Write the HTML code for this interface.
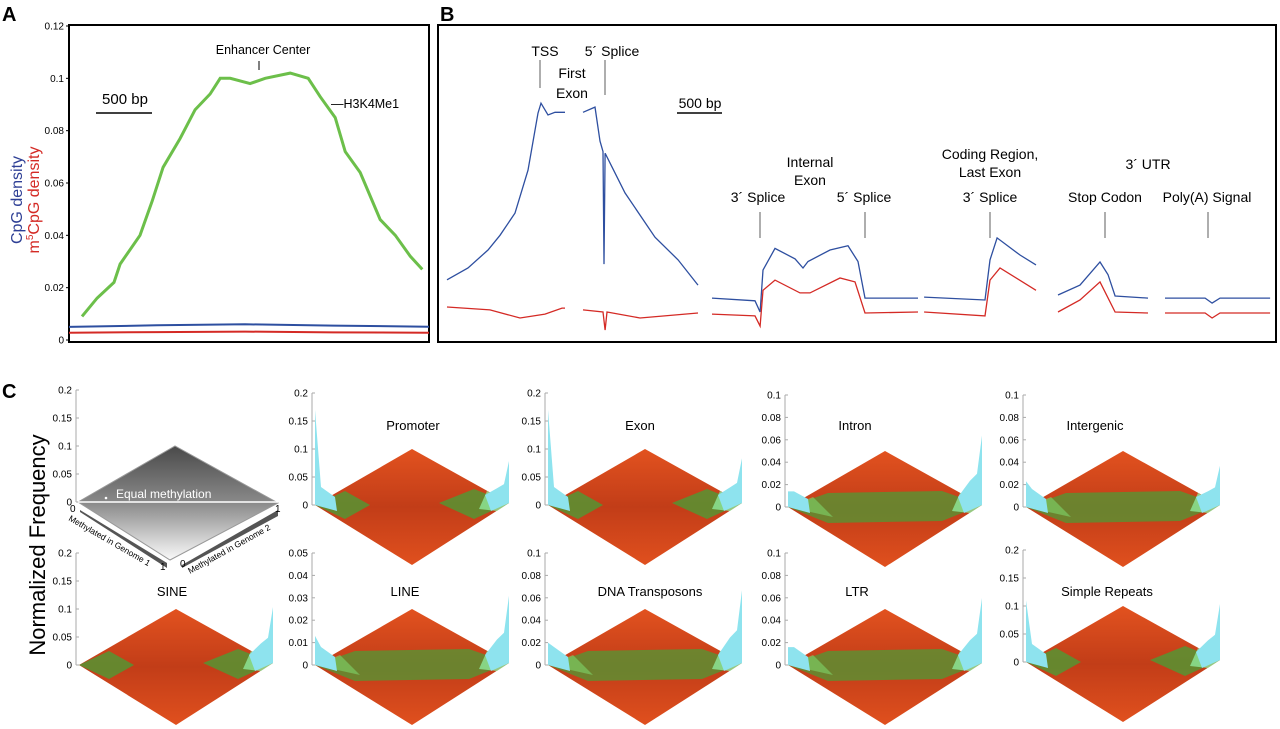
<!DOCTYPE html>
<html><head><meta charset="utf-8"><style>
html,body{margin:0;padding:0;background:#fff}
svg{display:block;font-family:"Liberation Sans",sans-serif}
</style></head><body>
<svg id="fig" width="1280" height="729" viewBox="0 0 1280 729">
<defs>
<linearGradient id="gray" x1="0" y1="0" x2="0" y2="1"><stop offset="0" stop-color="#4a4a4a"/><stop offset="0.5" stop-color="#8a8a8a"/><stop offset="1" stop-color="#fafafa"/></linearGradient>
<linearGradient id="org" x1="0" y1="0" x2="0" y2="1"><stop offset="0" stop-color="#e2521f"/><stop offset="0.5" stop-color="#c23d18"/><stop offset="1" stop-color="#e0501e"/></linearGradient>
</defs>
<g id="A"></g>
<g id="B"></g>
<g id="C"></g>
</svg>
<script>
// ---------- Panel A data ----------
const aTicks=[0,0.02,0.04,0.06,0.08,0.1,0.12];
const aTickLabels=["0","0.02","0.04","0.06","0.08","0.1","0.12"];
const aGreenX=[118,255,409,464,645,755,855,1009,1145,1282,1373,1464,1645,1782,2009,2173,2282,2418,2509,2645,2827,2964,3100,3209];
const aGreenY=[0.009,0.016,0.022,0.029,0.040,0.053,0.066,0.077,0.088,0.094,0.100,0.100,0.098,0.100,0.102,0.100,0.093,0.085,0.072,0.064,0.046,0.040,0.032,0.027];
const aBlueX=[0,800,1600,2400,3270];
const aBlueY=[0.0050,0.0056,0.0060,0.0055,0.0051];
const aRedX=[0,800,1600,2400,3270];
const aRedY=[0.0028,0.0030,0.0032,0.0029,0.0028];
// ---------- Panel B data (x in bp, y in density) ----------
const bBlueSegX=[
 [100,333,556,689,855,1000,1111,1144,1222,1300,1411],
 [1611,1744,1800,1833,1844,1856,2078,2411,2667,2889],
 [3044,3522,3578,3611,3744,3967,4055,4111,4355,4555,4666,4744,5333],
 [5400,6077,6133,6211,6466,6644],
 [6888,7133,7355,7444,7522,7888],
 [8077,8522,8600,8688,9244]];
const bBlueSegY=[
 [0.023,0.0275,0.0344,0.040,0.0485,0.0649,0.0867,0.0905,0.086,0.087,0.087],
 [0.087,0.089,0.076,0.072,0.029,0.0714,0.0562,0.0393,0.0306,0.021],
 [0.016,0.015,0.0107,0.0267,0.035,0.031,0.0275,0.030,0.0344,0.036,0.030,0.016,0.016],
 [0.0164,0.0153,0.0306,0.039,0.0325,0.0287],
 [0.0172,0.021,0.0298,0.025,0.0168,0.016],
 [0.016,0.016,0.0141,0.016,0.016]];
const bRedSegX=[
 [100,578,911,1189,1378,1411],
 [1611,1833,1856,1878,2244,2889],
 [3044,3522,3578,3611,3744,4022,4133,4466,4633,4744,5333],
 [5400,6077,6133,6244,6644],
 [6888,7133,7355,7522,7888],
 [8077,8522,8600,8688,9244]];
const bRedSegY=[
 [0.0126,0.0115,0.0084,0.0099,0.0122,0.0122],
 [0.0115,0.0107,0.0038,0.0107,0.0084,0.0103],
 [0.0099,0.0092,0.0053,0.019,0.0229,0.018,0.018,0.0237,0.0222,0.0103,0.0107],
 [0.0107,0.0092,0.0229,0.0275,0.019],
 [0.0107,0.0153,0.0222,0.0107,0.0103],
 [0.0103,0.0103,0.0084,0.0103,0.0103]];
// ---------- Panel C data ----------
const cNames=["Promoter","Exon","Intron","Intergenic","SINE","LINE","DNA Transposons","LTR","Simple Repeats"];
const cMax=[0.2,0.2,0.1,0.1,0.2,0.05,0.1,0.1,0.2];
const cTickLabels=[
 ["0","0.05","0.1","0.15","0.2"],["0","0.05","0.1","0.15","0.2"],
 ["0","0.02","0.04","0.06","0.08","0.1"],["0","0.02","0.04","0.06","0.08","0.1"],
 ["0","0.05","0.1","0.15","0.2"],["0","0.01","0.02","0.03","0.04","0.05"],
 ["0","0.02","0.04","0.06","0.08","0.1"],["0","0.02","0.04","0.06","0.08","0.1"],
 ["0","0.05","0.1","0.15","0.2"]];
const cLeftPeak=[0.17,0.17,0.014,0.023,0.0,0.013,0.02,0.016,0.11];
const cRightPeak=[0.075,0.08,0.062,0.035,0.1,0.03,0.065,0.058,0.1];
const cGreenBand=[0,0,1,1,0,1,1,1,0];

const NS="http://www.w3.org/2000/svg";
function el(tag,attrs,parent,txt){const e=document.createElementNS(NS,tag);for(const k in attrs)e.setAttribute(k,attrs[k]);if(txt!==undefined)e.textContent=txt;parent.appendChild(e);return e;}
function path(xs,ys,sx,sy){return xs.map((x,i)=>(i?'L':'M')+sx(x).toFixed(1)+','+sy(ys[i]).toFixed(1)).join('');}

// ===== Panel A =====
const A=document.getElementById('A');
const ax0=69,ax1=429,ay0=340,ayTop=26;
const axS=v=>ax0+v/3270*(ax1-ax0);
const ayS=v=>ay0-v/0.12*(ay0-ayTop);
let t=el('text',{x:2,y:21,'font-size':20,'font-weight':'bold'},A,'A');

let r=el('rect',{x:ax0,y:25,width:ax1-ax0,height:317,fill:'none',stroke:'#000','stroke-width':2},A);

aTicks.forEach((v,i)=>{
 const l=el('line',{x1:ax0-3,x2:ax0,y1:ayS(v),y2:ayS(v),stroke:'#000'},A);
 
 const tx=el('text',{x:ax0-5,y:ayS(v)+3.5,'font-size':10,'text-anchor':'end'},A,aTickLabels[i]);
 
});
let g=el('g',{transform:'translate(22,200) rotate(-90)'},A);

el('text',{x:0,y:0,'font-size':16,fill:'#2e3f95','text-anchor':'middle'},g,'CpG density');
let rt=el('text',{x:0,y:17,'font-size':16,fill:'#d42a25','text-anchor':'middle'},g);
rt.innerHTML='m<tspan font-size="10" dy="-6">5</tspan><tspan dy="6">CpG density</tspan>';
let p=el('path',{d:path(aGreenX,aGreenY,axS,ayS),fill:'none',stroke:'#6cbf4a','stroke-width':3},A);

p=el('path',{d:path(aBlueX,aBlueY,axS,ayS),fill:'none',stroke:'#2e4fa0','stroke-width':2},A);

p=el('path',{d:path(aRedX,aRedY,axS,ayS),fill:'none',stroke:'#d42a25','stroke-width':2},A);

t=el('text',{x:263,y:54,'font-size':12.5,'text-anchor':'middle'},A,'Enhancer Center');

el('line',{x1:259,x2:259,y1:61,y2:70,stroke:'#000'},A);
t=el('text',{x:125,y:104,'font-size':15,'text-anchor':'middle'},A,'500 bp');

el('line',{x1:96,x2:152,y1:113,y2:113,stroke:'#000','stroke-width':1.5},A);
t=el('text',{x:331,y:108,'font-size':12.5},A,'—H3K4Me1');


// ===== Panel B =====
const B=document.getElementById('B');
const bx0=438,bx1=1276;
const bxS=v=>bx0+v/9310*(bx1-bx0);
const byS=v=>340-v/0.12*314;
t=el('text',{x:440,y:21,'font-size':20,'font-weight':'bold'},B,'B');

r=el('rect',{x:bx0,y:25,width:bx1-bx0,height:317,fill:'none',stroke:'#000','stroke-width':2},B);

bBlueSegX.forEach((xs,i)=>{
 const q=el('path',{d:path(xs,bBlueSegY[i],bxS,byS),fill:'none',stroke:'#2e4fa0','stroke-width':1.3},B);
 
});
bRedSegX.forEach((xs,i)=>{
 const q=el('path',{d:path(xs,bRedSegY[i],bxS,byS),fill:'none',stroke:'#d42a25','stroke-width':1.3},B);
 
});
const bLabels=[["TSS",545,56],["5´ Splice",612,56],["First",572,78],["Exon",572,98],["500 bp",700,108],
 ["Internal",810,167],["Exon",810,185],["3´ Splice",758,202],["5´ Splice",864,202],
 ["Coding Region,",990,159],["Last Exon",990,177],["3´ UTR",1148,169],["3´ Splice",990,202],["Stop Codon",1105,202],["Poly(A) Signal",1207,202]];
bLabels.forEach(d=>{
 const q=el('text',{x:d[1],y:d[2],'font-size':14,'text-anchor':'middle'},B,d[0]);
 
});
[[540,60,88],[605,60,95],[760,212,238],[865,212,238],[990,212,238],[1105,212,238],[1208,212,238]].forEach(d=>{
 el('line',{x1:d[0],x2:d[0],y1:d[1],y2:d[2],stroke:'#777','stroke-width':1.2},B);
});
el('line',{x1:677,x2:722,y1:113,y2:113,stroke:'#000','stroke-width':1.5},B);

// ===== Panel C =====
const C=document.getElementById('C');
t=el('text',{x:2,y:398,'font-size':20,'font-weight':'bold'},C,'C');

t=el('text',{x:0,y:0,'font-size':22,'text-anchor':'middle',transform:'translate(45,545) rotate(-90)'},C,'Normalized Frequency');


function axis(parent,ax,y0,labels){
 el('line',{x1:ax,x2:ax,y1:y0,y2:y0-112,stroke:'#aaa'},parent);
 const n=labels.length-1;
 labels.forEach((lb,i)=>{
  const y=y0-112*i/n;
  el('line',{x1:ax,x2:ax+3,y1:y,y2:y,stroke:'#aaa'},parent);
  const q=el('text',{x:ax-4,y:y+3.5,'font-size':10,'text-anchor':'end'},parent,lb);
  
 });
}
// legend panel
const Lg=el('g',{},C);

axis(Lg,76,502,["0","0.05","0.1","0.15","0.2"]);
el('polygon',{points:'78,502 175,446 278,503 170,560',fill:'url(#gray)',stroke:'#999'},Lg);
el('line',{x1:78,x2:278,y1:502,y2:502,stroke:'#fff','stroke-width':1.5},Lg);
t=el('text',{x:116,y:498,'font-size':12,fill:'#fff'},Lg,'Equal methylation');

el('circle',{cx:106,cy:498,r:1.3,fill:'#fff'},Lg);
el('polygon',{points:'80,510 167,563 167,568 80,512',fill:'#555'},Lg);
el('polygon',{points:'182,565 278,510 278,516 182,568',fill:'#555'},Lg);
el('text',{x:0,y:0,'font-size':8.5,transform:'translate(68,520) rotate(30)'},Lg,'Methylated in Genome 1');
el('text',{x:0,y:0,'font-size':8.5,transform:'translate(190,574) rotate(-29)'},Lg,'Methylated in Genome 2');
el('text',{x:70,y:512,'font-size':10},Lg,'0');
el('text',{x:160,y:570,'font-size':10},Lg,'1');
el('text',{x:180,y:567,'font-size':10},Lg,'0');
el('text',{x:275,y:512,'font-size':10},Lg,'1');

const cAx=[312,545,785,1023,76,312,545,785,1023];
const cY0=[505,505,507,507,665,665,665,665,662];
cNames.forEach((nm,i)=>{
 const G=el('g',{},C);
 
 
 const ax=cAx[i],y0=cY0[i];
 axis(G,ax,y0,cTickLabels[i]);
 const L=[ax+3,y0],T=[ax+100,y0-56],R=[ax+197,y0-2],Bt=[ax+100,y0+60];
 const hs=v=>v/cMax[i]*112;
 el('polygon',{points:[L,T,R,Bt].map(p=>p.join(',')).join(' '),fill:'url(#org)'},G);
 if(cGreenBand[i]){
  el('polygon',{points:`${L[0]},${L[1]} ${L[0]+40},${L[1]-14} ${R[0]-40},${R[1]-14} ${R[0]},${R[1]} ${R[0]-40},${R[1]+16} ${L[0]+40},${L[1]+16}`,fill:'#4f9a35','fill-opacity':0.75},G);
  el('polygon',{points:`${L[0]},${L[1]} ${L[0]+25},${L[1]-10} ${L[0]+45},${L[1]+10}`,fill:'#7fd66a','fill-opacity':0.6},G);
 } else {
  el('polygon',{points:`${L[0]},${L[1]} ${L[0]+30},${L[1]-14} ${L[0]+55},${L[1]} ${L[0]+30},${L[1]+14}`,fill:'#4f9a35','fill-opacity':0.8},G);
  el('polygon',{points:`${R[0]},${R[1]} ${R[0]-35},${R[1]-14} ${R[0]-70},${R[1]} ${R[0]-35},${R[1]+16}`,fill:'#4f9a35','fill-opacity':0.8},G);
 }
 el('polygon',{points:`${R[0]},${R[1]} ${R[0]-22},${R[1]-12} ${R[0]-30},${R[1]+6} ${R[0]-12},${R[1]+8}`,fill:'#8fe89a','fill-opacity':0.8},G);
 const lh=hs(cLeftPeak[i]),rh=hs(cRightPeak[i]);
 if(lh>2) el('polygon',{points:`${L[0]},${L[1]} ${L[0]},${L[1]-lh} ${L[0]+6},${L[1]-Math.min(lh,18)} ${L[0]+20},${L[1]-8} ${L[0]+22},${L[1]+6}`,fill:'#8ee3ee'},G);
 el('polygon',{points:`${R[0]},${R[1]} ${R[0]},${R[1]-rh} ${R[0]-5},${R[1]-rh*0.45} ${R[0]-12},${R[1]-rh*0.35} ${R[0]-24},${R[1]-8} ${R[0]-18},${R[1]+8}`,fill:'#8ee3ee'},G);
 const q=el('text',{x:[413,640,855,1095,172,405,650,857,1107][i],y:i<4?430:596,'font-size':13,'text-anchor':'middle'},G,nm);
 
});
</script>
</body></html>
